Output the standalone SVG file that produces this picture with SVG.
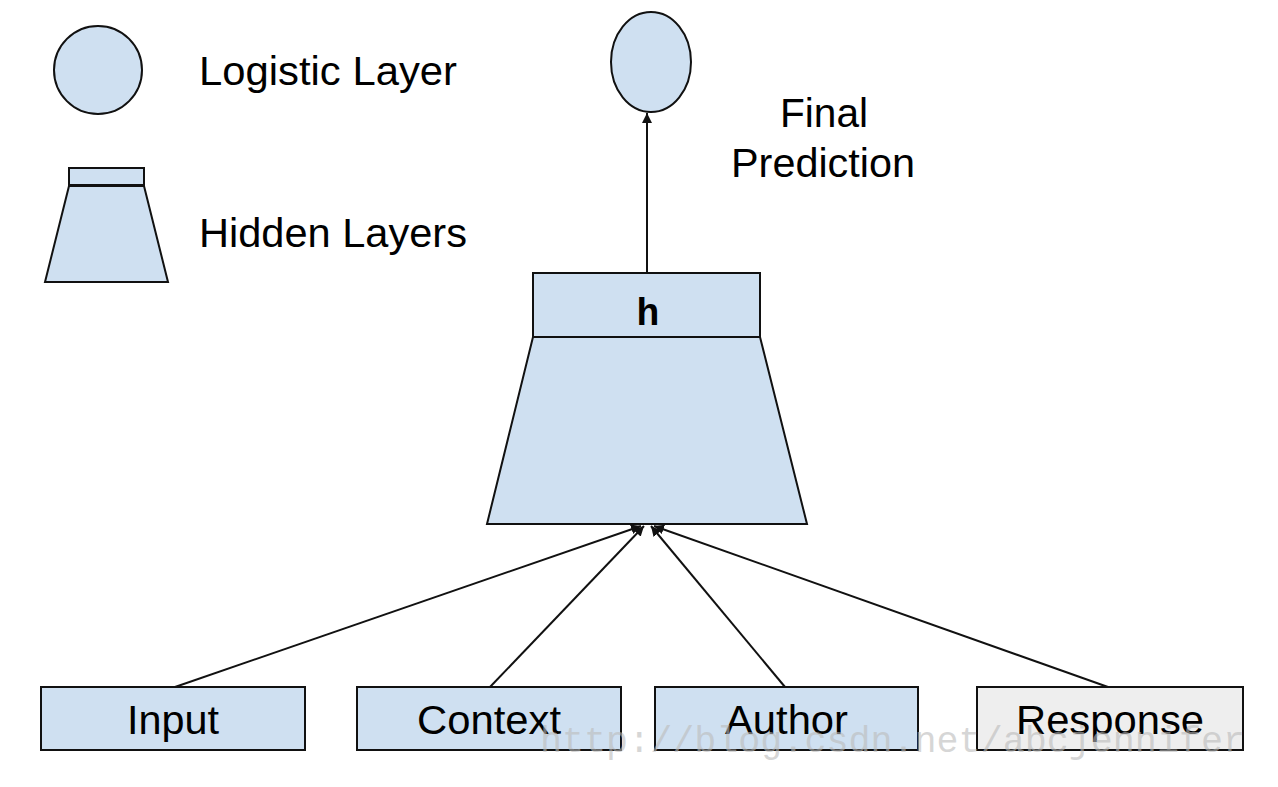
<svg xmlns="http://www.w3.org/2000/svg" width="1278" height="787" viewBox="0 0 1278 787">
<style>
.s{fill:#cfe0f1;stroke:#111;stroke-width:2}
.t{font-family:"Liberation Sans",Arial,sans-serif;font-size:40px;fill:#000}
.c{stroke:#111;stroke-width:2;fill:none;marker-end:url(#a)}
</style>
<defs><marker id="a" viewBox="0 0 10 10" refX="10" refY="5" markerWidth="5" markerHeight="5" orient="auto"><path d="M0,0L10,5L0,10z" fill="#111"/></marker></defs>
<rect width="1278" height="787" fill="#fff"/>
<g id="legend-logistic"><ellipse class="s" cx="98" cy="70" rx="44" ry="44"/><text class="t" x="199" y="85" textLength="258" lengthAdjust="spacingAndGlyphs">Logistic Layer</text></g>
<g id="legend-hidden"><rect class="s" x="69" y="168" width="75" height="17"/><path class="s" d="M69,186H144L168,282H45Z"/><text class="t" x="199" y="247" textLength="268" lengthAdjust="spacingAndGlyphs">Hidden Layers</text></g>
<g id="final"><ellipse class="s" cx="651" cy="62" rx="40" ry="50"/><text class="t" x="780" y="127" textLength="88" lengthAdjust="spacingAndGlyphs">Final</text><text class="t" x="731" y="177" textLength="184" lengthAdjust="spacingAndGlyphs">Prediction</text></g>
<g id="hidden"><path class="s" d="M533,337H760L807,524H487Z"/><rect class="s" x="533" y="273" width="227" height="64"/><text x="648" y="325" text-anchor="middle" font-family="Liberation Mono,monospace" font-weight="bold" font-size="38">h</text></g>
<g id="input"><rect class="s" x="41" y="687" width="264" height="63"/><text class="t" x="127" y="734" textLength="92" lengthAdjust="spacingAndGlyphs">Input</text></g>
<g id="context"><rect class="s" x="357" y="687" width="264" height="63"/><text class="t" x="417" y="734" textLength="144" lengthAdjust="spacingAndGlyphs">Context</text></g>
<g id="author"><rect class="s" x="655" y="687" width="263" height="63"/><text class="t" x="725" y="734" textLength="123" lengthAdjust="spacingAndGlyphs">Author</text></g>
<g id="response"><rect class="s" x="977" y="687" width="266" height="63" style="fill:#eeeeee"/><text class="t" x="1016" y="734" textLength="188" lengthAdjust="spacingAndGlyphs">Response</text></g>
<g id="connectors">
<path class="c" d="M647,273V113"/>
<path class="c" d="M175,687L641,526"/>
<path class="c" d="M490,687L644,526"/>
<path class="c" d="M785,687L651,526"/>
<path class="c" d="M1108,687L654,526"/>
</g>
<text x="540" y="752" font-family="Liberation Mono,monospace" font-size="36" fill="#bbb" fill-opacity="0.6" textLength="705" lengthAdjust="spacingAndGlyphs">http://blog.csdn.net/abcjennifer</text>
</svg>
